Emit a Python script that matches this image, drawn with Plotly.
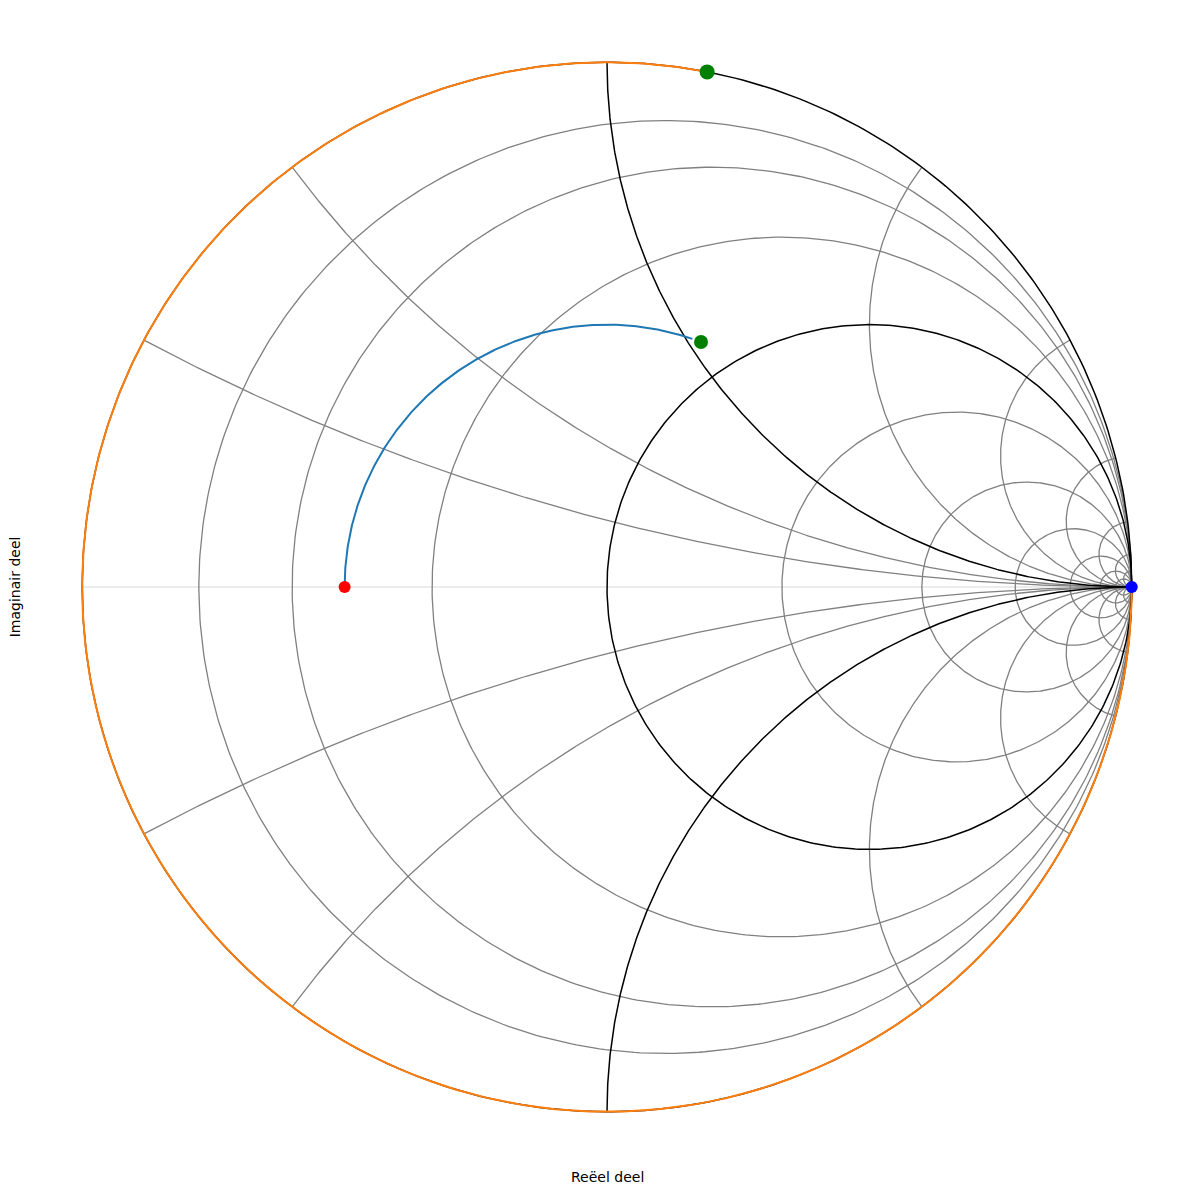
import numpy as np
import plotly.graph_objects as go

# ---- data ----
r_grid = [0.125, 0.25, 0.5, 2, 4, 8, 16, 32, 64]      # gray constant-resistance circles
r_bold = [0, 1]                                       # black constant-resistance circles
x_grid = [0.25, 0.5, 2, 4, 8, 16, 32, 64]             # gray constant-reactance arcs (+/-)
x_bold = [1]                                          # black constant-reactance arcs (+/-)

load_gamma = [-0.5, 0.0]                              # red point (reflection coefficient)
swr_radius = 0.5                                      # |Gamma| of blue rotation arc
arc_start_deg = 180.0                                 # blue arc start angle
arc_end_deg = 71.0                                    # blue arc end angle
green_inner_deg = 69.0                                # green point on |Gamma|=0.5
green_outer_deg = 79.0                                # green point on unit circle
orange_start_deg = 79.0                               # orange arc start (ccw)
orange_end_deg = 360.0                                # orange arc end
open_gamma = [1.0, 0.0]                               # blue point


def r_circle(r, n=500):
    c = r / (1 + r)
    rad = 1 / (1 + r)
    t = np.linspace(0, 2 * np.pi, n)
    return list(c + rad * np.cos(t)), list(rad * np.sin(t))


def x_arc(x, n=400):
    s = 1 if x > 0 else -1
    ax = abs(x)
    cx, cy = 1.0, 1.0 / ax
    rad = 1.0 / ax
    gx = (ax ** 2 - 1) / (1 + ax ** 2)
    gy = 2 * ax / (1 + ax ** 2)
    a0 = np.degrees(np.arctan2(gy - cy, gx - cx)) % 360
    t = np.radians(np.linspace(a0, 270, n))
    xs = cx + rad * np.cos(t)
    ys = cy + rad * np.sin(t)
    return list(xs), list(s * ys)


def collect(rs, xs):
    X, Y = [], []
    for r in rs:
        a, b = r_circle(r)
        X += a + [None]
        Y += b + [None]
    for x in xs:
        for sx in (x, -x):
            a, b = x_arc(sx)
            X += a + [None]
            Y += b + [None]
    return X, Y


fig = go.Figure()

# real axis line
fig.add_trace(go.Scatter(x=[-1, 1], y=[0, 0], mode="lines",
                         line=dict(color="#e6e6e6", width=1.5), hoverinfo="skip"))

gx, gy = collect(r_grid, x_grid)
fig.add_trace(go.Scatter(x=gx, y=gy, mode="lines",
                         line=dict(color="#808080", width=1.3), hoverinfo="skip"))

bx, by = collect(r_bold, x_bold)
fig.add_trace(go.Scatter(x=bx, y=by, mode="lines",
                         line=dict(color="black", width=1.5), hoverinfo="skip"))

# orange arc on unit circle
t = np.radians(np.linspace(orange_start_deg, orange_end_deg, 600))
fig.add_trace(go.Scatter(x=np.cos(t), y=np.sin(t), mode="lines",
                         line=dict(color="#ff7f0e", width=2), hoverinfo="skip"))

# blue rotation arc
t = np.radians(np.linspace(arc_start_deg, arc_end_deg, 400))
fig.add_trace(go.Scatter(x=swr_radius * np.cos(t), y=swr_radius * np.sin(t), mode="lines",
                         line=dict(color="#1f77b4", width=2), hoverinfo="skip"))

# markers
fig.add_trace(go.Scatter(x=[load_gamma[0]], y=[load_gamma[1]], mode="markers",
                         marker=dict(color="red", size=12), hoverinfo="skip"))
gi = np.radians(green_inner_deg)
fig.add_trace(go.Scatter(x=[swr_radius * np.cos(gi)], y=[swr_radius * np.sin(gi)], mode="markers",
                         marker=dict(color="green", size=14), hoverinfo="skip"))
go_ = np.radians(green_outer_deg)
fig.add_trace(go.Scatter(x=[np.cos(go_)], y=[np.sin(go_)], mode="markers",
                         marker=dict(color="green", size=15), hoverinfo="skip"))
fig.add_trace(go.Scatter(x=[open_gamma[0]], y=[open_gamma[1]], mode="markers",
                         marker=dict(color="blue", size=12), hoverinfo="skip"))

# page body adds an 8px offset; compensate so the chart centre lands at (607, 587)
OFF = 8
L, T = 55.75 - OFF, 35.75 - OFF
W = 1102.5
FW = 1186
fig.update_layout(
    width=FW, height=FW,
    margin=dict(l=L, r=FW - L - W, t=T, b=FW - T - W, pad=0),
    paper_bgcolor="white", plot_bgcolor="white",
    showlegend=False,
    xaxis=dict(range=[-1.05, 1.05], visible=False, fixedrange=True),
    yaxis=dict(range=[-1.05, 1.05], visible=False, scaleanchor="x", scaleratio=1, fixedrange=True),
    font=dict(family="DejaVu Sans", size=14, color="black"),
    annotations=[
        dict(text="Reëel deel", xref="paper", yref="paper",
             x=0.5, y=(T + W - (1177 - OFF)) / W, xanchor="center", yanchor="middle",
             showarrow=False, font=dict(size=14)),
        dict(text="Imaginair deel", xref="paper", yref="paper",
             x=((15 - OFF) - L) / W, y=0.5, xanchor="center", yanchor="middle",
             textangle=-90, showarrow=False, font=dict(size=14)),
    ],
)

fig.write_html("out.html")
